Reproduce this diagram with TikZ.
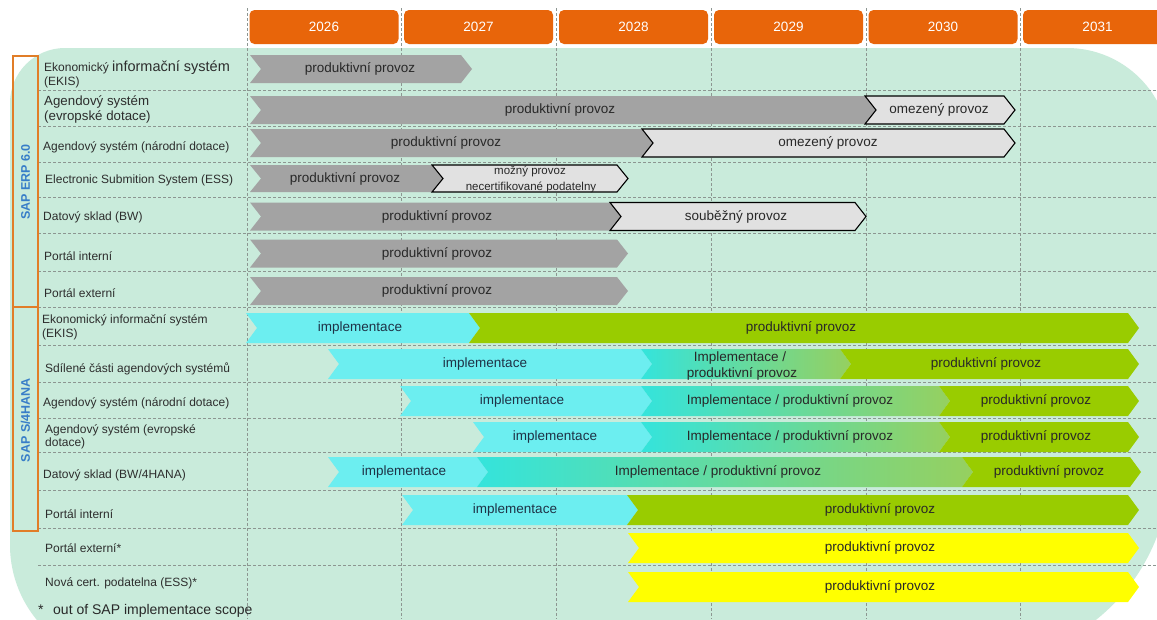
\documentclass[tikz,border=0pt]{standalone}
\usepackage{fontspec}
\setmainfont{Liberation Sans}
\definecolor{mint}{RGB}{201,235,219}
\definecolor{grayB}{RGB}{163,163,163}
\definecolor{lightB}{RGB}{225,225,225}
\definecolor{cyanB}{RGB}{108,238,240}
\definecolor{gradL}{RGB}{52,228,220}
\definecolor{gradR}{RGB}{150,208,95}
\definecolor{greenB}{RGB}{153,204,0}
\definecolor{yellowB}{RGB}{255,255,0}
\definecolor{orangeH}{RGB}{232,101,10}
\definecolor{orangeL}{RGB}{225,125,40}
\definecolor{blueS}{RGB}{55,125,200}
\definecolor{dashc}{RGB}{140,150,145}
\definecolor{textD}{RGB}{40,40,40}
\definecolor{textC}{RGB}{30,50,70}
\definecolor{labelc}{RGB}{45,45,45}
\def\chevd{11}
\newcommand{\chevbar}[5]{\path[#5] (#1,#3-#4) -- ({#2-\chevd},#3-#4) -- (#2,#3) -- ({#2-\chevd},#3+#4) -- (#1,#3+#4) -- ({#1+\chevd},#3) -- cycle;}
\begin{document}
\begin{tikzpicture}[x=1pt,y=-1pt,
  graybar/.style={fill=grayB},
  lightbar/.style={fill=lightB, draw=black, line width=1.1pt},
  cyanbar/.style={fill=cyanB},
  gradbar/.style={left color=gradL, right color=gradR},
  greenbar/.style={fill=greenB},
  yellowbar/.style={fill=yellowB},
  bt/.style={font=\fontsize{13.5}{15}\selectfont, text=textD, inner sep=0pt},
  ct/.style={bt, text=textC},
  lbl/.style={anchor=west, font=\fontsize{12}{14.5}\selectfont, text=labelc, align=left, inner sep=0pt},
  gridline/.style={draw=dashc, line width=0.6pt, dash pattern=on 3pt off 2pt},
  yearbox/.style={fill=orangeH, rounded corners=5pt, minimum width=149pt, minimum height=34pt, text=white, font=\fontsize{13.5}{15}\selectfont, inner sep=0pt},
  bracket/.style={draw=orangeL, line width=1.4pt},
  vlabel/.style={rotate=90, font=\bfseries\fontsize{12.5}{14}\selectfont, text=blueS, inner sep=0pt}
]
\useasboundingbox (0,0) rectangle (1157,619);
\clip (0,0) rectangle (1157,619);
\fill[white] (0,0) rectangle (1157,619);
% background
\fill[mint] (10,103) .. controls (10,72.6) and (34.6,48) .. (65,48) -- (1067,48)
  .. controls (1123.9,48) and (1170,94.1) .. (1170,151) -- (1170,466)
  .. controls (1170,574.8) and (1081.8,663) .. (973,663) -- (128,663)
  .. controls (62.8,663) and (10,610.2) .. (10,545) -- cycle;
% grid lines
\foreach \yy in {90,126,162,197,233,271,307,345,382,418,452,490,528,565}
  \draw[gridline] (38,\yy) -- (1157,\yy);
\foreach \xx in {247,401,556,711,866,1020}
  \draw[gridline] (\xx,8) -- (\xx,619);
% year headers
\node[yearbox] (y2026) at (324,27) {2026};
\node[yearbox] (y2027) at (478.5,27) {2027};
\node[yearbox] (y2028) at (633.5,27) {2028};
\node[yearbox] (y2029) at (788.5,27) {2029};
\node[yearbox] (y2030) at (943,27) {2030};
\node[yearbox] (y2031) at (1097.5,27) {2031};
% brackets
\draw[bracket] (13,56) rectangle (38,307);
\draw[bracket] (13,307) rectangle (38,531);
\node[vlabel] (erp) at (25.5,182) {SAP ERP 6.0};
\node[vlabel] (s4) at (25.5,420) {SAP S/4HANA};
% row labels
\node[lbl] (l1) at (44,74.5) {Ekonomický {\fontsize{14.5}{15}\selectfont informační systém}\\(EKIS)};
\node[lbl, font=\fontsize{13.3}{15}\selectfont] (l2) at (44,109.5) {Agendový systém\\(evropské dotace)};
\node[lbl] (l3) at (43,147) {Agendový systém (národní dotace)};
\node[lbl] (l4) at (45,180) {Electronic Submition System (ESS)};
\node[lbl] (l5) at (43,217) {Datový sklad (BW)};
\node[lbl] (l6) at (44,256) {Portál interní};
\node[lbl] (l7) at (44,293) {Portál externí};
\node[lbl] (l8) at (42,327.5) {Ekonomický informační systém\\(EKIS)};
\node[lbl] (l9) at (45,369) {Sdílené části agendových systémů};
\node[lbl] (l10) at (43,403) {Agendový systém (národní dotace)};
\node[lbl, font=\fontsize{12}{12.5}\selectfont] (l11) at (45,437) {Agendový systém (evropské\\dotace)};
\node[lbl] (l12) at (43,475) {Datový sklad (BW/4HANA)};
\node[lbl] (l13) at (45,514) {Portál interní};
\node[lbl] (l14) at (45,548) {Portál externí*};
\node[lbl] (l15) at (45,583) {Nová cert. podatelna (ESS)*};
% SAP ERP bars
\chevbar{250}{472}{69}{14}{graybar}
\node[bt] (b1) at (360,69) {produktivní provoz};
\chevbar{250}{876}{110}{14}{graybar}
\chevbar{865}{1015}{110}{14}{lightbar}
\node[bt] (b2) at (560,110) {produktivní provoz};
\node[bt] (b2o) at (939,110) {omezený provoz};
\chevbar{250}{653}{143}{14}{graybar}
\chevbar{642}{1015}{143}{14}{lightbar}
\node[bt] (b3) at (446,143) {produktivní provoz};
\node[bt] (b3o) at (828,143) {omezený provoz};
\chevbar{250}{443}{178.5}{13.5}{graybar}
\chevbar{432}{628}{178.5}{13.5}{lightbar}
\node[bt] (b4) at (345,178.5) {produktivní provoz};
\node[bt, font=\fontsize{11.5}{13}\selectfont, anchor=base] (b4a) at (530,174) {možný provoz};
\node[bt, font=\fontsize{11.5}{13}\selectfont, anchor=base] (b4b) at (531,190.5) {necertifikované podatelny};
\chevbar{250}{621}{216.5}{14}{graybar}
\chevbar{610}{866}{216.5}{14}{lightbar}
\node[bt] (b5) at (437,216.5) {produktivní provoz};
\node[bt] (b5s) at (736,216.5) {souběžný provoz};
\chevbar{250}{628}{253.5}{14}{graybar}
\node[bt] (b6) at (437,253.5) {produktivní provoz};
\chevbar{250}{628}{291}{14}{graybar}
\node[bt] (b7) at (437,291) {produktivní provoz};
% SAP S/4HANA bars
\chevbar{246}{480}{328}{15}{cyanbar}
\chevbar{469}{1139}{328}{15}{greenbar}
\node[ct] (c8) at (360,328) {implementace};
\node[bt] (g8) at (801,328) {produktivní provoz};
\chevbar{328}{652}{364}{15}{cyanbar}
\chevbar{641}{851}{364}{15}{gradbar}
\chevbar{840}{1139}{364}{15}{greenbar}
\node[ct] (c9) at (485,364) {implementace};
\node[bt, anchor=base] (m9a) at (740,361.5) {Implementace /};
\node[bt, anchor=base] (m9b) at (742,377.5) {produktivní provoz};
\node[bt] (g9) at (986,364) {produktivní provoz};
\chevbar{400}{652}{401}{15}{cyanbar}
\chevbar{641}{950}{401}{15}{gradbar}
\chevbar{939}{1139}{401}{15}{greenbar}
\node[ct] (c10) at (522,401) {implementace};
\node[bt] (m10) at (790,401) {Implementace / produktivní provoz};
\node[bt] (g10) at (1036,401) {produktivní provoz};
\chevbar{473}{652}{437}{15}{cyanbar}
\chevbar{641}{950}{437}{15}{gradbar}
\chevbar{939}{1139}{437}{15}{greenbar}
\node[ct] (c11) at (555,437) {implementace};
\node[bt] (m11) at (790,437) {Implementace / produktivní provoz};
\node[bt] (g11) at (1036,437) {produktivní provoz};
\chevbar{328}{488}{472}{15}{cyanbar}
\chevbar{477}{973}{472}{15}{gradbar}
\chevbar{962}{1141}{472}{15}{greenbar}
\node[ct] (c12) at (404,472) {implementace};
\node[bt] (m12) at (718,472) {Implementace / produktivní provoz};
\node[bt] (g12) at (1049,472) {produktivní provoz};
\chevbar{402}{638}{510}{15}{cyanbar}
\chevbar{627}{1139}{510}{15}{greenbar}
\node[ct] (c13) at (515,510) {implementace};
\node[bt] (g13) at (880,510) {produktivní provoz};
\chevbar{628}{1139}{548}{15}{yellowbar}
\node[bt] (y14) at (880,548) {produktivní provoz};
\chevbar{628}{1139}{587}{15}{yellowbar}
\node[bt] (y15) at (880,587) {produktivní provoz};
% footnote
\node[anchor=base west, font=\fontsize{14}{16}\selectfont, text=textD, inner sep=0pt] (star) at (38,614) {*};
\node[anchor=base west, font=\fontsize{14}{16}\selectfont, text=textD, inner sep=0pt] (foot) at (53,614) {out of SAP implementace scope};
\end{tikzpicture}
\end{document}
